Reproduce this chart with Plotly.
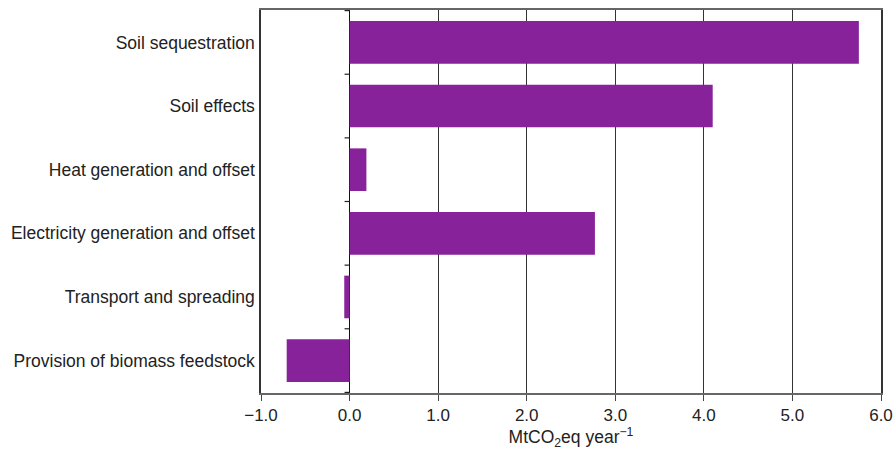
import plotly.graph_objects as go

# Emission components, top to bottom
categories = [
    "Soil sequestration",
    "Soil effects",
    "Heat generation and offset",
    "Electricity generation and offset",
    "Transport and spreading",
    "Provision of biomass feedstock",
]
values = [5.75, 4.10, 0.19, 2.77, -0.06, -0.71]

x_ticks = [-1, 0, 1, 2, 3, 4, 5, 6]
x_tick_text = ["\u22121.0", "0.0", "1.0", "2.0", "3.0", "4.0", "5.0", "6.0"]

bar_color = "#88229A"
font_family = "Liberation Sans, Arial, sans-serif"

fig = go.Figure(
    go.Bar(
        x=values,
        y=categories,
        orientation="h",
        width=0.67,
        marker=dict(color=bar_color, line=dict(width=0)),
    )
)

# small ticks on the zero line between category bands
n = len(categories)
shapes = []
for i in range(n + 1):
    shapes.append(
        dict(
            type="line",
            xref="x",
            yref="y",
            xsizemode="pixel",
            xanchor=0,
            x0=-5,
            x1=0,
            y0=i - 0.5,
            y1=i - 0.5,
            line=dict(color="#222222", width=1.2),
        )
    )

fig.update_layout(
    width=895,
    height=450,
    margin=dict(l=261, r=14, t=10, b=57),
    plot_bgcolor="white",
    paper_bgcolor="white",
    font=dict(family=font_family, size=17.5, color="#222222"),
    showlegend=False,
    shapes=shapes,
    xaxis=dict(
        range=[-1, 6],
        tickvals=x_ticks,
        ticktext=x_tick_text,
        ticks="outside",
        ticklen=6,
        tickwidth=1,
        tickcolor="#444444",
        showgrid=True,
        gridcolor="#333333",
        gridwidth=1,
        zeroline=True,
        zerolinecolor="#111111",
        zerolinewidth=1.2,
        showline=True,
        linecolor="#666666",
        linewidth=2,
        mirror=True,
        automargin=False,
        title=dict(
            text="MtCO<sub>2</sub>eq year<sup>\u22121</sup>",
            font=dict(size=17.5),
            standoff=5,
        ),
        tickfont=dict(size=17),
    ),
    yaxis=dict(
        categoryorder="array",
        categoryarray=categories,
        autorange="reversed",
        showgrid=False,
        zeroline=False,
        ticks="",
        showline=True,
        linecolor="#333333",
        linewidth=1.5,
        mirror=True,
        automargin=False,
        ticklabelstandoff=1,
        tickfont=dict(size=17.5),
    ),
)

fig.write_html("out.html")
